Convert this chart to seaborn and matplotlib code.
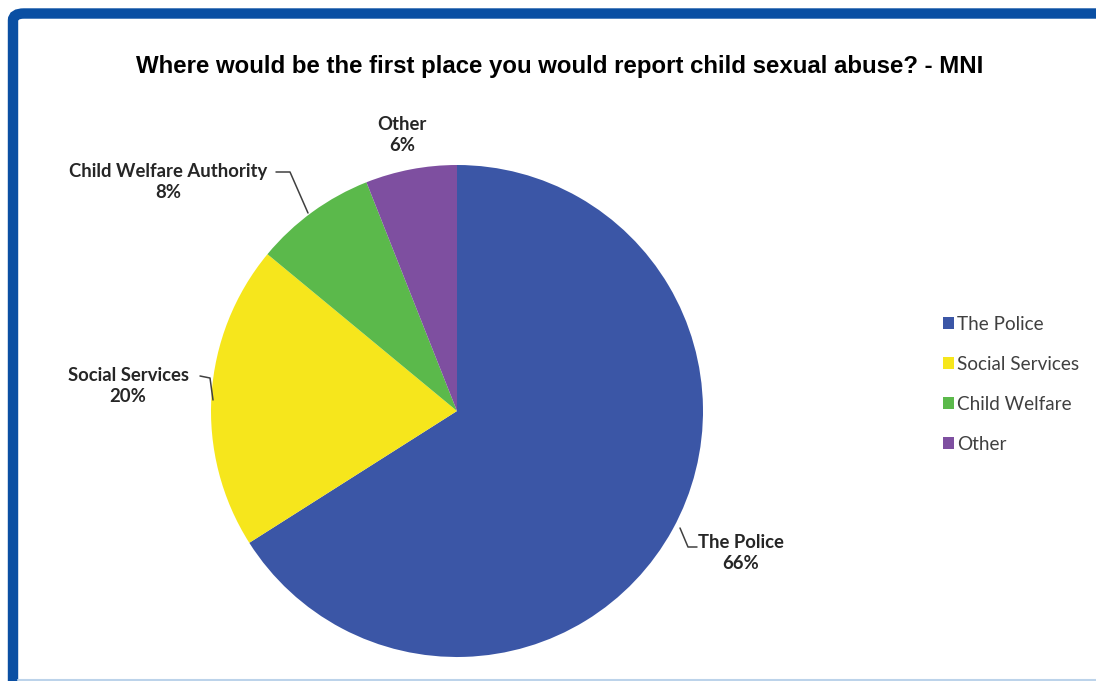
import matplotlib
matplotlib.use("Agg")
import matplotlib.pyplot as plt
from matplotlib.patches import FancyBboxPatch, Patch
from matplotlib.lines import Line2D
import seaborn as sns

# datos del grafico
categorias = ["The Police", "Social Services", "Child Welfare", "Other"]
etiquetas = ["The Police", "Social Services", "Child Welfare Authority", "Other"]
valores = [66, 20, 8, 6]
colores = ["#3b56a6", "#f6e61c", "#5bb94b", "#7e4fa0"]
titulo = "Where would be the first place you would report child sexual abuse? - MNI"

sns.set_theme(style="white")
plt.rcParams["font.family"] = ["Lato", "DejaVu Sans"]

W, H = 1096, 681
fig = plt.figure(figsize=(W / 100, H / 100), dpi=100)
fig.patch.set_facecolor("white")

# marco azul
marco = FancyBboxPatch((13 / W, -20 / H), 1120 / W, (H - 13.5 + 20) / H,
                       boxstyle="round,pad=0,rounding_size=0.01",
                       transform=fig.transFigure, facecolor="none",
                       edgecolor="#0a4fa3", linewidth=7.5, zorder=0)
fig.add_artist(marco)
fig.add_artist(Line2D([18 / W, 1], [1.5 / H, 1.5 / H], transform=fig.transFigure,
                      color="#bcd3ea", lw=1.5))

# titulo
fig.text(560 / W, 1 - 67 / H, titulo, ha="center", va="center",
         fontsize=17.3, fontweight="bold", color="black",
         family=["Liberation Sans", "DejaVu Sans"])

# pastel
cx, cy, r = 457, 411, 246
ax = fig.add_axes([(cx - r) / W, (H - cy - r) / H, 2 * r / W, 2 * r / H])
ax.pie(valores, colors=colores, startangle=90, counterclock=False,
       radius=1, wedgeprops=dict(linewidth=0))
ax.set_xlim(-1, 1)
ax.set_ylim(-1, 1)
ax.set_aspect("auto")
ax.axis("off")


def px(x, y):
    return (x - cx) / r, (cy - y) / r


estilo = dict(fontsize=13.3, fontweight="bold", color="#262626",
              ha="center", va="center", linespacing=1.3)

for lab, val, pos in zip(etiquetas, valores,
                         [(741, 553), (128, 386), (168, 182), (402, 135)]):
    x, y = px(*pos)
    ax.text(x, y, f"{lab}\n{val}%", clip_on=False, **estilo)

# lineas guia
guias = [
    [(680, 528), (688, 547), (697, 547)],
    [(200, 376), (210, 378), (213, 400)],
    [(276, 172), (290, 172), (308, 213)],
]
for g in guias:
    pts = [px(*p) for p in g]
    ax.plot([p[0] for p in pts], [p[1] for p in pts], color="#404040",
            lw=1.1, clip_on=False)

# leyenda
manijas = [Patch(facecolor=c, edgecolor="none") for c in colores]
fig.legend(manijas, categorias, loc="upper left",
           bbox_to_anchor=(926 / W, 1 - 299 / H), frameon=False,
           fontsize=13.6, labelcolor="#404040", handlelength=0.6,
           handleheight=0.6, handletextpad=0.15, labelspacing=1.22)

fig.savefig("out.png", dpi=100)
